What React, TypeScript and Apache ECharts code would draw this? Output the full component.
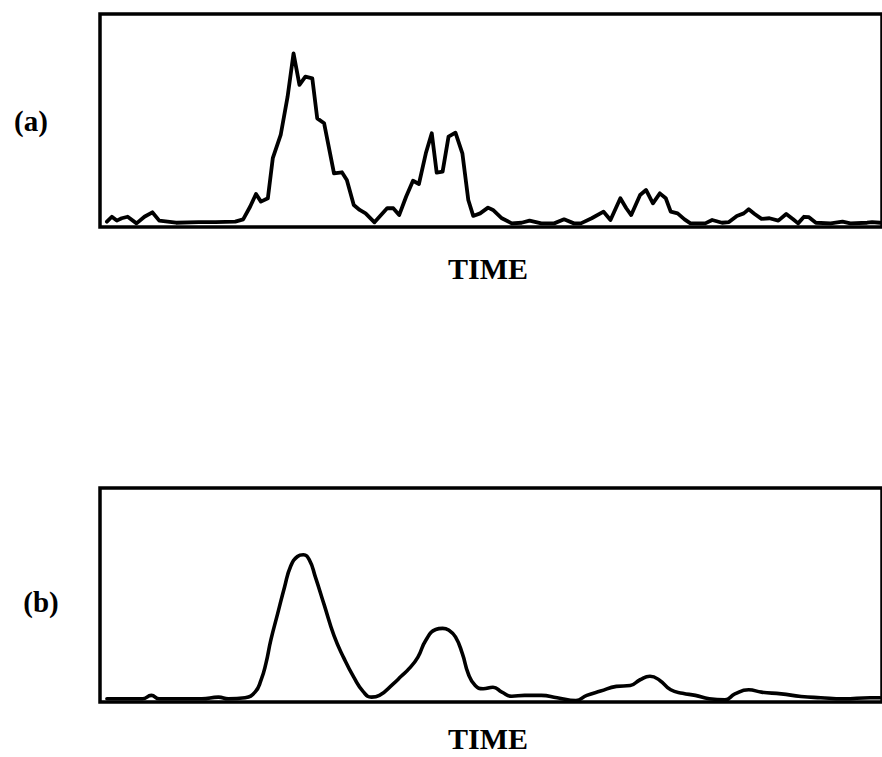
import React, { useEffect, useRef } from "react";
import * as echarts from "echarts";

// Panel (a): raw detector signal, sampled at irregular times
const timeA = [7, 12, 17, 22, 28, 37, 45, 53, 60, 77, 100, 117, 137, 145, 152, 158, 163, 170, 175, 183, 190, 196, 202, 208, 215, 220, 227, 237, 245, 250, 257, 263, 269, 278, 291, 297, 303, 310, 317, 323, 330, 336, 341, 347, 353, 360, 367, 373, 378, 385, 393, 398, 407, 417, 427, 435, 447, 460, 470, 480, 487, 498, 510, 517, 527, 533, 538, 547, 553, 560, 567, 573, 578, 585, 592, 598, 613, 620, 630, 637, 645, 652, 657, 663, 670, 678, 687, 695, 702, 707, 713, 718, 725, 740, 752, 760, 777, 782, 790];
const signalA = [2.5, 4.8, 3.0, 4.1, 4.8, 1.7, 4.8, 6.9, 3.0, 2.0, 2.3, 2.3, 2.5, 3.6, 9.5, 15.5, 11.9, 13.5, 32.3, 43.2, 61.2, 81.5, 66.7, 70.6, 69.8, 51.0, 48.7, 25.2, 25.7, 22.1, 10.3, 8.0, 6.4, 2.2, 8.9, 8.8, 5.6, 14.2, 21.7, 20.2, 34.6, 44.0, 25.5, 26.0, 42.4, 44.3, 34.6, 12.7, 5.2, 6.4, 9.1, 8.0, 4.1, 1.7, 2.0, 3.0, 1.7, 1.7, 3.6, 1.7, 1.7, 4.1, 7.2, 3.3, 13.5, 8.8, 5.6, 15.0, 17.4, 11.1, 15.8, 13.5, 7.2, 6.4, 3.6, 1.7, 1.7, 3.3, 2.0, 2.3, 5.2, 6.4, 8.3, 6.1, 3.8, 4.1, 3.0, 6.1, 3.6, 1.7, 4.8, 4.6, 2.0, 1.7, 2.5, 1.7, 2.0, 2.3, 2.0];

// Panel (b): smoothed signal
const timeB = [7, 23, 43, 52, 60, 90, 103, 120, 130, 147, 157, 163, 168, 173, 180, 187, 193, 200, 206, 212, 218, 227, 237, 247, 257, 267, 275, 283, 297, 305, 313, 322, 330, 340, 347, 353, 360, 367, 373, 380, 388, 398, 407, 417, 430, 447, 463, 482, 493, 507, 523, 537, 547, 557, 567, 578, 590, 603, 617, 633, 643, 657, 670, 690, 710, 730, 753, 780, 790];
const signalB = [1.5, 1.5, 1.5, 3.1, 1.5, 1.5, 1.5, 2.3, 1.5, 2.0, 4.6, 10.1, 17.9, 28.9, 41.4, 53.9, 63.3, 68.0, 68.8, 66.4, 58.6, 45.5, 31.0, 20.5, 11.6, 4.6, 2.3, 3.1, 8.5, 12.0, 15.6, 21.0, 28.9, 33.9, 34.4, 33.6, 30.4, 22.6, 13.2, 7.7, 6.2, 6.9, 4.6, 2.7, 3.1, 3.1, 2.0, 0.7, 3.1, 5.1, 7.3, 7.7, 10.4, 12.0, 10.1, 5.7, 4.1, 3.1, 1.5, 1.0, 3.8, 5.7, 4.6, 3.8, 2.6, 2.0, 1.5, 2.0, 2.0];

const panelLabels = ["(a)", "(b)"];
const axisTitle = "TIME";

const pairs = (t: number[], v: number[]) => t.map((x, i) => [x, v[i]]);

const FONT = "'Liberation Serif', 'Times New Roman', serif";

export default function App() {
  const ref = useRef<HTMLDivElement>(null);

  useEffect(() => {
    if (!ref.current) return;
    const chart = echarts.init(ref.current, undefined, { renderer: "svg" });

    const gridBase = {
      left: 100,
      right: -10,
      show: true,
      borderColor: "#000",
      borderWidth: 3.5,
      backgroundColor: "#fff",
    };

    const xBase = {
      type: "value" as const,
      min: 0,
      max: 792,
      show: false,
    };
    const yBase = {
      type: "value" as const,
      min: 0,
      max: 100,
      show: false,
    };

    const titleStyle = {
      text: axisTitle,
      font: `bold 30px ${FONT}`,
      fill: "#000",
      align: "center",
      verticalAlign: "middle",
    };

    chart.setOption({
      animation: false,
      backgroundColor: "#fff",
      grid: [
        { ...gridBase, top: 14, height: 213 },
        { ...gridBase, top: 488, height: 214 },
      ],
      xAxis: [
        { ...xBase, gridIndex: 0 },
        { ...xBase, gridIndex: 1 },
      ],
      yAxis: [
        { ...yBase, gridIndex: 0 },
        { ...yBase, gridIndex: 1 },
      ],
      series: [
        {
          type: "line",
          xAxisIndex: 0,
          yAxisIndex: 0,
          data: pairs(timeA, signalA),
          showSymbol: false,
          symbol: "none",
          lineStyle: { color: "#000", width: 3.8, join: "round", cap: "round" },
          clip: true,
        },
        {
          type: "line",
          xAxisIndex: 1,
          yAxisIndex: 1,
          data: pairs(timeB, signalB),
          smooth: 0.5,
          showSymbol: false,
          symbol: "none",
          lineStyle: { color: "#000", width: 3.6, join: "round", cap: "round" },
          clip: true,
        },
      ],
      graphic: [
        {
          type: "text",
          x: 31,
          y: 121,
          style: {
            text: panelLabels[0],
            font: `bold 29px ${FONT}`,
            fill: "#000",
            align: "center",
            verticalAlign: "middle",
          },
        },
        {
          type: "text",
          x: 41,
          y: 602,
          style: {
            text: panelLabels[1],
            font: `bold 29px ${FONT}`,
            fill: "#000",
            align: "center",
            verticalAlign: "middle",
          },
        },
        { type: "text", x: 488, y: 268, style: titleStyle },
        { type: "text", x: 488, y: 738, style: titleStyle },
      ],
    });

    return () => chart.dispose();
  }, []);

  return (
    <div
      ref={ref}
      style={{ position: "absolute", left: 0, top: 0, width: 882, height: 757, background: "#fff" }}
    />
  );
}
